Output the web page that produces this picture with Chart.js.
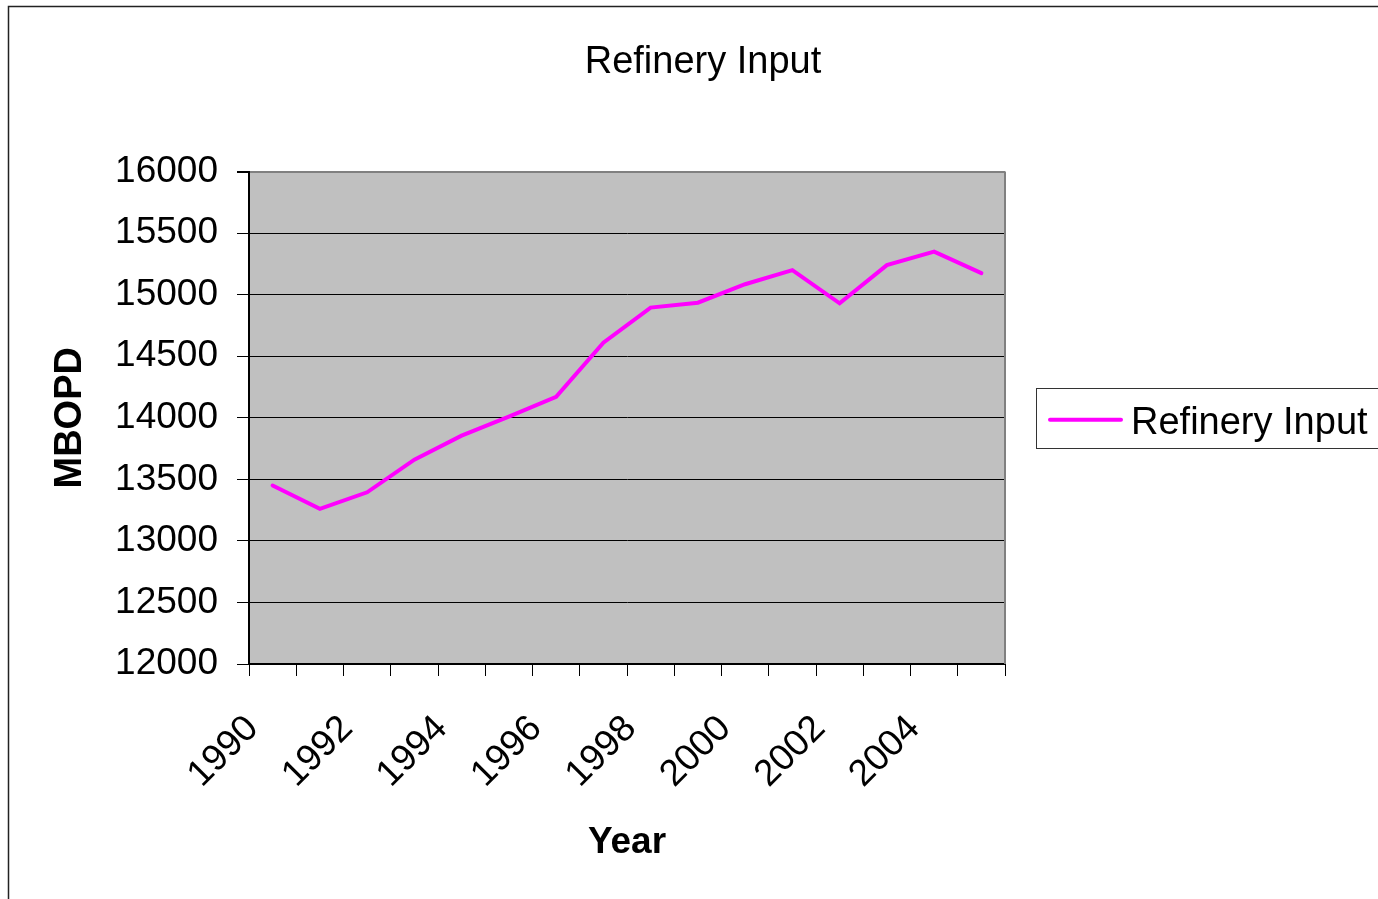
<!DOCTYPE html>
<html>
<head>
<meta charset="utf-8">
<title>Refinery Input</title>
<script src="https://cdn.jsdelivr.net/npm/chart.js@4/dist/chart.umd.min.js"></script>
<style>
  html, body { margin: 0; padding: 0; background: #fff; overflow: hidden; }
</style>
</head>
<body>
<canvas id="chartJS" width="1378" height="899"></canvas>
<script>
// Data
const years = ['1990', '1991', '1992', '1993', '1994', '1995', '1996', '1997',
               '1998', '1999', '2000', '2001', '2002', '2003', '2004', '2005'];
const refineryInput = [13450, 13260, 13395, 13660, 13855, 14010, 14170, 14610,
                       14895, 14935, 15085, 15200, 14930, 15240, 15350, 15175];
const seriesName = 'Refinery Input';
const yMin = 12000;
const yMax = 16000;
const yStep = 500;

const FONT = '"Liberation Sans", Arial, sans-serif';
Chart.defaults.font.family = FONT;
Chart.defaults.color = '#000';

// grey plot area, outer frame, right border of plot
const plotArea = {
  id: 'plotArea',
  beforeDraw(chart) {
    const {ctx, chartArea: a} = chart;
    ctx.save();
    ctx.strokeStyle = '#222';
    ctx.lineWidth = 1.5;
    ctx.strokeRect(8.5, 6.5, chart.width + 20, chart.height + 20);
    ctx.fillStyle = '#c0c0c0';
    ctx.fillRect(a.left, a.top, a.right - a.left, a.bottom - a.top);
    ctx.restore();
  },
  beforeDatasetsDraw(chart) {
    const {ctx, chartArea: a} = chart;
    ctx.save();
    ctx.strokeStyle = '#808080';
    ctx.lineWidth = 2;
    ctx.beginPath();
    ctx.moveTo(a.right, a.top);
    ctx.lineTo(a.right, a.bottom);
    ctx.stroke();
    ctx.restore();
  }
};

// Excel style legend box right of the plot
const legendBox = {
  id: 'legendBox',
  afterDraw(chart) {
    const {ctx, chartArea: a} = chart;
    const ds = chart.data.datasets[0];
    const x = a.right + 31;
    const cy = (a.top + a.bottom) / 2;
    ctx.save();
    ctx.strokeStyle = '#333';
    ctx.lineWidth = 1;
    ctx.strokeRect(Math.round(x) + 0.5, Math.round(cy - 30) + 0.5, 400, 60);
    ctx.strokeStyle = ds.borderColor;
    ctx.lineWidth = 4;
    ctx.lineCap = 'round';
    ctx.beginPath();
    ctx.moveTo(x + 14, cy + 2);
    ctx.lineTo(x + 85, cy + 2);
    ctx.stroke();
    ctx.fillStyle = '#000';
    ctx.font = '38px ' + FONT;
    ctx.textBaseline = 'alphabetic';
    ctx.fillText(ds.label, x + 95, cy + 16);
    ctx.restore();
  }
};

const cfg = {
  type: 'line',
  data: {
    labels: years,
    datasets: [{
      label: seriesName,
      data: refineryInput,
      borderColor: '#ff00ff',
      backgroundColor: '#ff00ff',
      borderWidth: 4,
      borderCapStyle: 'round',
      pointRadius: 0,
      tension: 0,
      fill: false
    }]
  },
  options: {
    responsive: false,
    animation: false,
    layout: { padding: { left: 28, top: 10, right: 0, bottom: 10 } },
    plugins: {
      legend: { display: false },
      tooltip: { enabled: false },
      title: {
        display: true,
        text: seriesName,
        color: '#000',
        font: { size: 38, weight: 'normal' },
        padding: { top: 30, bottom: 86 }
      }
    },
    scales: {
      x: {
        offset: true,
        grid: { offset: true, drawOnChartArea: false, tickLength: 12, color: '#000' },
        border: { color: '#000', width: 2 },
        ticks: {
          autoSkip: false,
          minRotation: 45,
          maxRotation: 45,
          padding: 31,
          labelOffset: -20,
          font: { size: 37 },
          callback: (v, i) => (i % 2 === 0 ? years[i] : '')
        },
        title: {
          display: true,
          text: 'Year',
          font: { size: 37, weight: 'bold' },
          padding: { top: 0, bottom: 24 }
        },
        afterFit: (s) => { s.height = 225; }
      },
      y: {
        min: yMin,
        max: yMax,
        grid: {
          tickLength: 12,
          color: (c) => (c.tick && c.tick.value === yMax ? '#808080' : '#000'),
          lineWidth: (c) => (c.tick && c.tick.value === yMax ? 2 : 1),
          tickColor: '#000'
        },
        border: { color: '#000', width: 2 },
        ticks: {
          stepSize: yStep,
          padding: 19,
          font: { size: 37 },
          callback: (v) => String(v)
        },
        title: {
          display: true,
          text: 'MBOPD',
          font: { size: 38, weight: 'bold' },
          padding: { top: 20, bottom: 0 }
        },
        afterFit: (s) => { s.width = 221; }
      },
      // empty right gutter that holds the legend box
      gutter: {
        type: 'linear',
        position: 'right',
        display: true,
        grid: { display: false },
        border: { display: false },
        ticks: { display: false },
        afterFit: (s) => { s.width = 373; }
      }
    }
  },
  plugins: [plotArea, legendBox]
};

new Chart(document.getElementById('chartJS'), cfg);
</script>
</body>
</html>
